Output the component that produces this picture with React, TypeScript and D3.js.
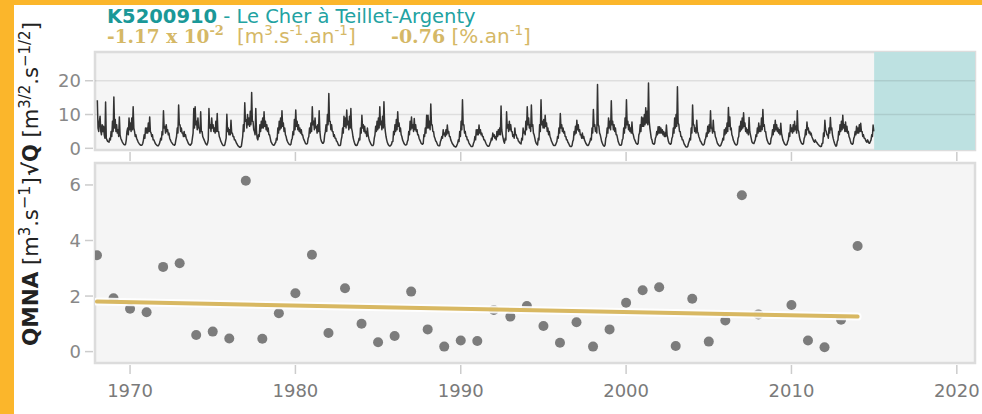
import React from "react";
import * as d3 from "d3";

const W = 982;
const H = 414;

// QMNA yearly values (m3/s); 2009 not visible in the reference
const qmnaYears = [
  1968, 1969, 1970, 1971, 1972, 1973, 1974, 1975, 1976, 1977, 1978, 1979,
  1980, 1981, 1982, 1983, 1984, 1985, 1986, 1987, 1988, 1989, 1990, 1991,
  1992, 1993, 1994, 1995, 1996, 1997, 1998, 1999, 2000, 2001, 2002, 2003,
  2004, 2005, 2006, 2007, 2008, 2010, 2011, 2012, 2013, 2014,
];
const qmnaValues = [
  3.47, 1.92, 1.54, 1.42, 3.05, 3.18, 0.6, 0.72, 0.47, 6.15, 0.46, 1.38,
  2.1, 3.49, 0.67, 2.28, 1.0, 0.34, 0.56, 2.16, 0.8, 0.18, 0.4, 0.38,
  1.5, 1.26, 1.64, 0.92, 0.32, 1.06, 0.18, 0.8, 1.76, 2.21, 2.32, 0.2,
  1.9, 0.36, 1.12, 5.63, 1.34, 1.68, 0.4, 0.16, 1.15, 3.8,
];

// Trend line end points
const trendYears = [1968, 2014];
const trendValues = [1.8, 1.26];

// sqrt(Q): 24 half-month values per year (Jan 1st half .. Dec 2nd half)
const sqrtQYears = [
  1968, 1969, 1970, 1971, 1972, 1973, 1974, 1975, 1976, 1977, 1978, 1979,
  1980, 1981, 1982, 1983, 1984, 1985, 1986, 1987, 1988, 1989, 1990, 1991,
  1992, 1993, 1994, 1995, 1996, 1997, 1998, 1999, 2000, 2001, 2002, 2003,
  2004, 2005, 2006, 2007, 2008, 2009, 2010, 2011, 2012, 2013, 2014,
];
const sqrtQHalfMonthly = [
  [14.2, 6, 5, 8, 9.5, 5, 4, 7, 5, 6.5, 4, 3, 13.7, 3, 2.5, 2, 2, 1.8, 3, 2.5, 5, 3.5, 8, 5],
  [15.2, 6, 8.5, 5, 7, 4.5, 5.5, 3.5, 9.3, 4, 3, 2.5, 2, 1.6, 1.3, 1.1, 1.0, 1.2, 2.5, 5, 6, 4, 9, 5.5],
  [7.5, 5, 9, 5.5, 12.3, 6, 5, 3.5, 4, 3, 2.5, 2, 1.6, 1.3, 1.1, 0.9, 0.9, 1.0, 1.5, 2.5, 4, 3, 6, 4.5],
  [6, 4.5, 7.5, 5, 9.3, 5, 4.5, 3.5, 4, 2.5, 2.5, 2, 1.5, 1.2, 1.0, 0.8, 0.7, 0.9, 1.3, 2, 3, 2.5, 5, 4],
  [11.1, 6, 6.5, 4.5, 7, 5, 5.5, 4, 4.5, 3, 2.5, 2, 1.7, 1.4, 1.1, 1.0, 0.9, 1.2, 2.5, 3.5, 6, 4.5, 12.8, 7],
  [7, 5, 6, 4.5, 4.5, 3.5, 5, 3.5, 4, 3, 2.5, 2, 1.5, 1.2, 1.0, 0.9, 1.2, 1.5, 3, 4.5, 11.8, 6, 12.3, 7],
  [8, 5.5, 9, 6, 6, 4.5, 10.8, 5, 5, 3.5, 3, 2.5, 2, 1.5, 1.2, 1.0, 1.5, 2.5, 11.8, 6, 7, 5, 9, 6],
  [7, 5, 6, 4.5, 8, 5, 10.3, 5, 5, 3.5, 3, 2.2, 1.8, 1.3, 1.0, 0.8, 0.8, 1.0, 2, 3, 10.1, 5, 6, 4],
  [5.5, 4, 8.3, 4.5, 4.5, 3.5, 3.5, 2.5, 2.5, 2, 1.5, 1.2, 0.8, 0.6, 0.4, 0.3, 0.4, 0.6, 2, 3.5, 7, 5, 13.5, 8],
  [8.5, 6, 10, 7, 9, 6.5, 11, 7, 16.5, 8, 8, 5.5, 5, 4, 11.8, 5, 3, 2.5, 4, 3.5, 7, 5, 8, 6],
  [9, 6, 10.8, 6.5, 8, 5.5, 7, 5, 6, 4, 4, 3, 2, 1.6, 1.2, 1.0, 0.9, 1.0, 1.5, 1.8, 3, 2.5, 6, 4.5],
  [8, 5.5, 9, 6, 11.1, 6.5, 7.5, 5, 6, 4, 3.5, 2.5, 2, 1.6, 1.3, 1.1, 1.0, 1.2, 2.5, 3, 5, 4, 8.5, 5.5],
  [11.3, 6.5, 8, 5.5, 7, 5, 6, 4.5, 5.5, 4, 4, 3, 2.5, 2, 1.5, 1.3, 1.3, 1.5, 3, 3.5, 6, 4.5, 7.5, 5],
  [12.3, 7, 8, 5.5, 9, 6, 6.5, 4.5, 7, 5, 11.1, 5, 3, 2.2, 1.8, 1.5, 1.5, 2, 4, 5, 7, 5, 10, 7],
  [16.2, 8, 8, 5.5, 7, 5, 5, 3.5, 4, 3, 3, 2.2, 2, 1.5, 1.0, 0.8, 0.8, 1.0, 2.5, 3.5, 6, 4.5, 9.5, 6.5],
  [9, 6, 11.3, 7, 8, 5.5, 9.5, 6, 11.8, 6, 5, 3.5, 2.5, 1.8, 1.2, 0.9, 0.8, 0.9, 1.5, 2, 3, 2.5, 6, 4.5],
  [9.8, 6, 7, 5, 6.5, 4.5, 5, 3.5, 6, 4, 3, 2.2, 1.8, 1.3, 1.0, 0.8, 0.8, 1.2, 3, 4, 6.5, 5, 8, 5.5],
  [9, 6, 12.3, 7, 8, 5.5, 9.5, 6, 13.8, 7, 5, 3.5, 2.5, 1.7, 1.2, 0.9, 0.7, 0.7, 0.9, 1.2, 2, 2, 5, 4],
  [7, 5, 8.5, 5.5, 10.8, 6.5, 7.5, 5, 6, 4, 3.5, 2.5, 2, 1.5, 1.2, 1.0, 1.0, 1.1, 2, 2.5, 5, 4, 8, 5.5],
  [9.3, 6, 7, 5, 8.8, 5.5, 7, 5, 5.5, 4, 4, 3, 2.5, 2, 1.5, 1.3, 1.2, 1.4, 4, 3.5, 6, 4.5, 9.8, 6],
  [9.8, 6, 8, 5.5, 13.1, 7, 7, 5, 5, 3.5, 3, 2.2, 2, 1.5, 1.0, 0.8, 0.7, 0.8, 2, 2.5, 3.5, 3, 5.5, 4],
  [4.5, 3.5, 5.5, 4, 6.9, 4.5, 5, 3.5, 3.5, 2.5, 2, 1.5, 1.2, 0.9, 0.6, 0.5, 0.4, 0.5, 1, 1.5, 2.5, 2, 5, 3.5],
  [8, 5.5, 14.4, 7, 7, 4.5, 5, 3.5, 3.5, 2.5, 2.5, 1.8, 1.3, 1.0, 0.7, 0.5, 0.5, 0.7, 1.5, 2, 3.5, 2.5, 5.5, 4],
  [5.5, 4, 6.9, 4.5, 5.5, 4, 4.5, 3.5, 3.5, 2.5, 2.5, 2, 1.5, 1.1, 0.8, 0.6, 0.6, 0.8, 1.5, 2, 3, 2.5, 4.5, 3.5],
  [4, 3, 3.5, 2.5, 5, 3.5, 5.5, 4, 6, 4, 12.5, 5.5, 4, 3, 2, 1.5, 3, 2.5, 10.8, 6, 7, 5, 8, 5.5],
  [7, 5, 5, 3.5, 4, 3, 6, 4, 4, 3, 3, 2.2, 2, 1.6, 1.5, 1.3, 3, 2.5, 6, 4.5, 5, 4, 8, 5.5],
  [12.3, 7, 9, 6, 7, 5, 12.8, 6.5, 7, 4.5, 4, 3, 2, 1.5, 1.2, 1.0, 3, 2.5, 7, 5, 14.4, 7, 8, 6],
  [8.5, 6, 9.8, 6.5, 7.5, 5, 6, 4, 5, 3.5, 3, 2.2, 1.8, 1.3, 0.9, 0.8, 0.8, 1.0, 1.5, 2, 3.5, 3, 6, 4.5],
  [10.3, 6, 7, 5, 6, 4.5, 5, 3.5, 3.5, 2.5, 2.5, 1.8, 1.5, 1.0, 0.6, 0.5, 0.5, 0.8, 2, 2.5, 5, 4, 6.5, 4.5],
  [8.3, 5.5, 7, 5, 5.5, 4, 4, 3, 4.5, 3, 3.5, 2.5, 2, 1.5, 1.2, 0.9, 0.8, 1.0, 1.5, 2, 3, 2.5, 6, 4.5],
  [11.5, 6.5, 7, 5, 6, 4.5, 18.9, 7, 6.5, 4.5, 4, 3, 2, 1.5, 1.0, 0.7, 0.6, 1.0, 3, 3.5, 6, 4.5, 9, 6],
  [8, 5.5, 14.1, 7, 8, 5.5, 7, 5, 6, 4, 4, 3, 2, 1.5, 1.0, 0.9, 0.9, 1.2, 2.5, 3, 6, 4.5, 9, 6],
  [14.4, 7, 8, 5.5, 7, 5, 6, 4.5, 7.8, 4.5, 4, 3, 2.5, 2, 1.5, 1.3, 1.2, 1.5, 4, 4.5, 7, 5, 9.3, 6.5],
  [9, 6.5, 10, 7, 12, 7.5, 11, 7, 19.3, 8, 6, 4.5, 3, 2.5, 1.5, 1.3, 1.2, 1.5, 3, 3.5, 5, 4, 6.4, 4.5],
  [6.4, 4.5, 6, 4.5, 5.5, 4, 5, 3.5, 4.5, 3.5, 6.9, 4, 3, 2, 1.5, 1.3, 1.2, 1.5, 3, 3.5, 6, 4.5, 9, 6],
  [10, 6.5, 18.2, 7.5, 7, 5, 5, 3.5, 3.5, 2.5, 2.5, 1.8, 1.2, 0.9, 0.5, 0.4, 0.4, 0.6, 1.5, 2, 3, 2.5, 6, 4.5],
  [12.8, 7, 7, 5, 6, 4.5, 8.3, 5, 4.5, 3.5, 3, 2.2, 2, 1.5, 1.2, 1.0, 1.0, 1.3, 2.5, 3, 4.5, 3.5, 6.5, 4.5],
  [7, 5, 11.1, 6, 6, 4.5, 8.3, 5, 5, 3.5, 3, 2.2, 1.5, 1.2, 0.9, 0.7, 0.7, 0.9, 1.5, 2, 3, 2.5, 5.5, 4],
  [6, 4.5, 7.5, 5, 12.1, 6.5, 9.3, 5.5, 6, 4, 3.5, 2.5, 2, 1.5, 1.2, 1.0, 1.0, 1.3, 3, 3.5, 6.5, 5, 8, 5.5],
  [9, 6, 10.5, 6.5, 7.5, 5, 6, 4.5, 5.5, 4, 9.1, 5, 4, 3, 2, 1.6, 1.5, 1.4, 2, 2.5, 4, 3.5, 6, 4.5],
  [7.5, 5, 6.5, 5, 9, 5.5, 11.5, 6.5, 7, 5, 5, 3.5, 2.5, 2, 1.5, 1.3, 1.2, 1.4, 3, 3.5, 5.5, 4, 7, 5],
  [8.3, 5.5, 7, 5, 6, 4.5, 5.5, 4, 7.4, 4.5, 3.5, 2.5, 2, 1.5, 1.2, 1.0, 1.0, 1.2, 2, 2.5, 4.5, 3.5, 7, 5],
  [6, 4.5, 7, 5, 8, 5.5, 6.5, 4.5, 11.1, 5.5, 5, 3.5, 2.5, 2, 1.5, 1.3, 1.2, 1.5, 3, 3.5, 5.5, 4, 7.8, 5.5],
  [6, 4.5, 5, 4, 4.5, 3.5, 3, 2.5, 2, 1.8, 2.5, 2, 1.8, 1.5, 1.2, 1.0, 0.7, 0.6, 0.5, 0.6, 1.5, 1.5, 4.5, 3.5],
  [8.3, 5.5, 5, 4, 4, 3, 6, 4.5, 9.1, 5.5, 6, 4, 3, 2.2, 1.5, 1.0, 0.6, 0.8, 2, 2.5, 5, 4, 7, 5],
  [8, 5.5, 9.8, 6, 7, 5, 7.8, 5, 6.5, 4.5, 5, 3.5, 3, 2.2, 1.5, 1.3, 1.2, 1.5, 3, 3.5, 5, 4, 6.5, 4.5],
  [6, 4.5, 7, 5, 7.4, 5, 5, 3.5, 4, 3, 3, 2.5, 2, 1.8, 2.5, 2, 1.5, 1.5, 2, 2.5, 4, 3.5, 6.9, 5],
];

const xTicks = [1970, 1980, 1990, 2000, 2010, 2020];
const topYTicks = [0, 10, 20];
const bottomYTicks = [0, 2, 4, 6];
const shadeStart = 2015;

const ORANGE = "#fbb62b";
const TEAL = "#22a2a2";
const GOLD = "#d5b866";
const SANS = "'DejaVu Sans', Verdana, sans-serif";
const SERIF = "'DejaVu Serif', Georgia, serif";

export default function App() {
  const plotL = 95;
  const plotR = 975;
  const topT = 52;
  const topB = 150;
  const botT = 163;
  const botB = 363;

  const x = d3.scaleLinear().domain([1967.88, 2021.1]).range([plotL, plotR]);
  const yTop = d3.scaleLinear().domain([-0.5, 28.5]).range([topB, topT]);
  const yBot = d3.scaleLinear().domain([-0.41, 6.79]).range([botB, botT]);

  const series: { t: number; v: number }[] = [];
  sqrtQYears.forEach((yr, i) => {
    const vals = sqrtQHalfMonthly[i];
    vals.forEach((v, k) => {
      series.push({ t: yr + k / vals.length + 1 / (2 * vals.length), v });
    });
  });
  const linePath =
    d3
      .line<{ t: number; v: number }>()
      .x((d) => x(d.t))
      .y((d) => yTop(d.v))(series) || "";

  const trendPath =
    d3
      .line<number>()
      .x((d) => x(d))
      .y((_, i) => yBot(trendValues[i]))(trendYears) || "";

  return (
    <svg
      width={W}
      height={H}
      style={{ position: "absolute", left: 0, top: 0 }}
      fontFamily={SANS}
    >
      <defs>
        <clipPath id="topclip">
          <rect x={plotL} y={topT} width={plotR - plotL} height={topB - topT} />
        </clipPath>
        <clipPath id="botclip">
          <rect x={plotL} y={botT} width={plotR - plotL} height={botB - botT} />
        </clipPath>
      </defs>
      <rect x={0} y={0} width={W} height={H} fill="#fff" />
      <rect x={0} y={0} width={14} height={H} fill={ORANGE} />
      <rect x={0} y={0} width={W} height={5} fill={ORANGE} />

      {/* Title */}
      <text x={107} y={23} fontSize={19.5} fill={TEAL}>
        <tspan fontWeight="bold" fill="#1a9898">K5200910</tspan>
        <tspan> - Le Cher à Teillet-Argenty</tspan>
      </text>
      <text x={107} y={43} fill={GOLD}>
        <tspan fontFamily={SERIF} fontWeight="bold" fontSize={18.5}>
          -1.17 x 10
        </tspan>
        <tspan fontFamily={SERIF} fontWeight="bold" fontSize={13} dy={-8}>
          -2
        </tspan>
      </text>
      <text x={237} y={43} fill={GOLD} fontSize={20}>
        <tspan>[m</tspan>
        <tspan fontSize={13.5} dy={-8}>3</tspan>
        <tspan dy={8}>.s</tspan>
        <tspan fontSize={13.5} dy={-8}>-1</tspan>
        <tspan dy={8}>.an</tspan>
        <tspan fontSize={13.5} dy={-8}>-1</tspan>
        <tspan dy={8}>]</tspan>
      </text>
      <text x={391} y={43} fill={GOLD}>
        <tspan fontFamily={SERIF} fontWeight="bold" fontSize={19}>
          -0.76
        </tspan>
        <tspan fontSize={20}> [%.an</tspan>
        <tspan fontSize={13.5} dy={-8}>-1</tspan>
        <tspan fontSize={20} dy={8}>]</tspan>
      </text>

      {/* Top panel */}
      <rect
        x={plotL}
        y={topT}
        width={plotR - plotL}
        height={topB - topT}
        fill="#f5f5f5"
        stroke="#dcdcdc"
        strokeWidth={2.5}
      />
      <rect
        x={x(shadeStart)}
        y={topT}
        width={plotR - x(shadeStart)}
        height={topB - topT}
        fill="#bde1e1"
      />
      {topYTicks
        .filter((t) => t > 0)
        .map((t) => (
          <line
            key={"tg" + t}
            x1={plotL}
            x2={plotR}
            y1={yTop(t)}
            y2={yTop(t)}
            stroke="rgba(0,0,0,0.09)"
            strokeWidth={1.5}
          />
        ))}
      <path
        d={linePath}
        fill="none"
        stroke="#333"
        strokeWidth={1.5}
        strokeLinejoin="round"
        clipPath="url(#topclip)"
      />
      {topYTicks.map((t) => (
        <g key={"ty" + t}>
          <line x1={85} x2={93} y1={yTop(t)} y2={yTop(t)} stroke="#ccc" strokeWidth={1.5} />
          <text
            x={81}
            y={yTop(t)}
            dy="0.36em"
            textAnchor="end"
            fontSize={18}
            fill="#888"
          >
            {t}
          </text>
        </g>
      ))}
      {xTicks.map((t) => (
        <line
          key={"tx" + t}
          x1={x(t)}
          x2={x(t)}
          y1={152}
          y2={161}
          stroke="#ccc"
          strokeWidth={1.5}
        />
      ))}

      {/* Bottom panel */}
      <rect
        x={plotL}
        y={botT}
        width={plotR - plotL}
        height={botB - botT}
        fill="#f5f5f5"
        stroke="#dcdcdc"
        strokeWidth={2.5}
      />
      <g clipPath="url(#botclip)">
        {qmnaYears.map((yr, i) => (
          <circle
            key={"p" + yr}
            cx={x(yr)}
            cy={yBot(qmnaValues[i])}
            r={5}
            fill="#7c7c7c"
          />
        ))}
        <path
          d={trendPath}
          fill="none"
          stroke="#fff"
          strokeWidth={8}
          strokeLinecap="round"
          opacity={0.9}
        />
        <path
          d={trendPath}
          fill="none"
          stroke="#d8b862"
          strokeWidth={4}
          strokeLinecap="round"
        />
      </g>
      {bottomYTicks.map((t) => (
        <g key={"by" + t}>
          <line x1={85} x2={93} y1={yBot(t)} y2={yBot(t)} stroke="#ccc" strokeWidth={1.5} />
          <text
            x={81}
            y={yBot(t)}
            dy="0.36em"
            textAnchor="end"
            fontSize={18}
            fill="#888"
          >
            {t}
          </text>
        </g>
      ))}
      {xTicks.map((t) => (
        <g key={"bx" + t}>
          <line
            x1={x(t)}
            x2={x(t)}
            y1={365}
            y2={374}
            stroke="#ccc"
            strokeWidth={1.5}
          />
          <text
            x={x(t)}
            y={397}
            textAnchor="middle"
            fontSize={18}
            fill="#7a7a7a"
          >
            {t}
          </text>
        </g>
      ))}

      {/* Axis labels */}
      <text transform="translate(38,176) rotate(-90)" fill="#222" fontSize={21}>
        <tspan fontWeight="bold">√Q</tspan>
        <tspan> [m</tspan>
        <tspan fontSize={15} dy={-8}>3/2</tspan>
        <tspan dy={8}>.s</tspan>
        <tspan fontSize={15} dy={-8}>−1/2</tspan>
        <tspan dy={8}>]</tspan>
      </text>
      <text transform="translate(38,346) rotate(-90)" fill="#222" fontSize={21}>
        <tspan fontWeight="bold" fontSize={21.5}>QMNA</tspan>
        <tspan> [m</tspan>
        <tspan fontSize={15} dy={-8}>3</tspan>
        <tspan dy={8}>.s</tspan>
        <tspan fontSize={16} dy={-8}>−1</tspan>
        <tspan dy={8}>]</tspan>
      </text>
    </svg>
  );
}
